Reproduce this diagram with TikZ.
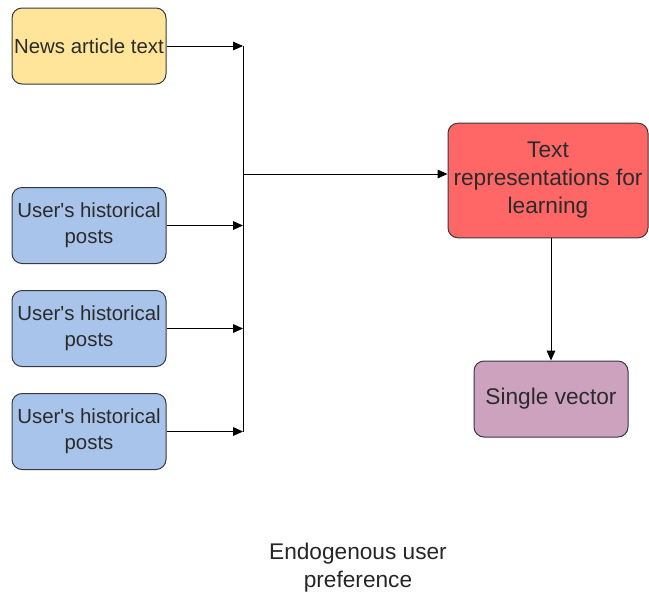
\documentclass[tikz,border=0pt]{standalone}
\usepackage{fontspec}
\setmainfont{Liberation Sans}
\usetikzlibrary{arrows.meta}
\definecolor{newsfill}{HTML}{FFE599}
\definecolor{postfill}{HTML}{A9C4EB}
\definecolor{reprfill}{HTML}{FF6666}
\definecolor{vecfill}{HTML}{CDA2BE}
\definecolor{edgecol}{HTML}{36393D}
\definecolor{txtcol}{HTML}{2B2B2B}
\newcommand{\sq}{\textquotesingle}
\tikzset{
  card/.style={draw=edgecol, line width=0.75pt, rounded corners=7.5pt,
    minimum width=115.5pt, minimum height=57pt, align=center,
    text=txtcol, font=\fontsize{15.3}{19.5}\selectfont, inner sep=1pt},
  feed/.style={-{Triangle[length=7.5pt,width=6.5pt]}, line width=0.75pt},
  bus/.style={line width=0.75pt}
}
\begin{document}
\begin{tikzpicture}[x=0.75pt,y=-0.75pt]
\useasboundingbox (0,0) rectangle (649,594);
% inputs
\node[card, fill=newsfill] (news) at (89,46) {News article text};
\node[card, fill=postfill] (p1) at (89,225.5) {User\sq s historical\\posts};
\node[card, fill=postfill] (p2) at (89,328.5) {User\sq s historical\\posts};
\node[card, fill=postfill] (p3) at (89,431.5) {User\sq s historical\\posts};
% outputs
\node[card, fill=reprfill, minimum width=150pt, minimum height=86pt,
  font=\fontsize{17}{21}\selectfont] (repr) at (548,180.5)
  {Text\\representations for\\learning};
\node[card, fill=vecfill, font=\fontsize{17}{21}\selectfont] (vec) at (551,399) {Single vector};
% collecting bus
\coordinate (btop) at (243,46);
\coordinate (bbot) at (243,431.5);
\coordinate (bmid) at (243,174);
\draw[bus] (btop) -- (bbot);
\draw[feed] (news.east) -- (btop);
\draw[feed] (p1.east) -- (p1.east -| btop);
\draw[feed] (p2.east) -- (p2.east -| btop);
\draw[feed] (p3.east) -- (bbot);
\draw[feed] (bmid) -- (bmid -| repr.west);
\draw[feed] (repr.south -| vec.north) -- (vec.north);
% caption
\node[align=center, text=black!85, font=\fontsize{17}{21}\selectfont] (cap) at (358,567.5)
  {Endogenous user\\preference};
\end{tikzpicture}
\end{document}
